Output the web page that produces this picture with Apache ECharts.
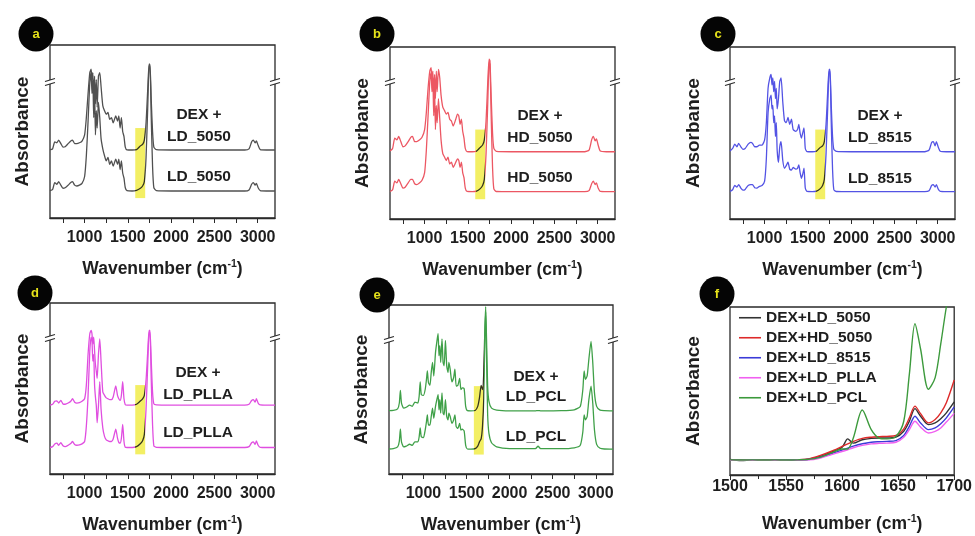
<!DOCTYPE html>
<html>
<head>
<meta charset="utf-8">
<script src="https://cdn.jsdelivr.net/npm/echarts@6/dist/echarts.min.js"></script>
<style>
  html, body { margin: 0; padding: 0; background: #fff; }
  #chart { width: 975px; height: 536px; }
</style>
</head>
<body>
<div id="chart"></div>
<script>
// wavenumber grid shared by the PLGA / PLLA spectra (panels a-d)
var wnPlga = [
  600, 630, 655, 680, 700, 725, 750, 775, 810, 840,
  860, 885, 910, 940, 970, 1000, 1020, 1040, 1060, 1075,
  1085, 1095, 1105, 1115, 1125, 1135, 1145, 1160, 1175, 1190,
  1210, 1230, 1250, 1270, 1290, 1310, 1330, 1360, 1380, 1395,
  1410, 1425, 1440, 1455, 1470, 1490, 1550, 1600, 1640, 1670,
  1690, 1710, 1730, 1745, 1755, 1770, 1785, 1800, 1830, 2000,
  2500, 2850, 2900, 2930, 2950, 2970, 2985, 3005, 3030, 3100,
  3200
]

// a: DEX + LD_5050 / LD_5050
var aUp = [
  39.5, 40, 44, 43.5, 45, 43, 41, 41.2, 43, 44.5,
  45, 43, 43, 43.5, 44.5, 48, 58, 72, 84, 86,
  80, 84, 70, 82, 66, 80, 64, 82, 84, 76,
  65, 62, 60, 61, 57, 58, 55, 59, 56, 59,
  52, 58, 50, 47, 41, 39.4, 39.3, 39.5, 41.5, 42.5,
  45, 55, 75, 89, 89, 68, 50, 41, 39.5, 39.3,
  39.3, 39.3, 40, 44, 45, 43.5, 44.5, 42, 39.5, 39.3,
  39.3
]
var aLo = [
  15.8, 16.5, 20.5, 19.5, 21, 19, 17.2, 17.5, 19, 20.5,
  21, 19, 18.5, 19, 20, 24, 36, 56, 78, 84,
  72, 80, 58, 74, 48, 62, 52, 67, 58, 46,
  40, 36, 33, 35, 31, 33, 30, 34, 31, 34,
  28, 33, 26, 23, 17.5, 15.8, 15.6, 16, 17, 18.5,
  21, 35, 65, 88, 88, 58, 30, 17.5, 15.8, 15.6,
  15.6, 15.6, 16.2, 19.5, 20.5, 19, 20, 17.5, 15.8, 15.6,
  15.6
]

// b: DEX + HD_5050 / HD_5050
var bUp = [
  39.5, 41, 47, 46, 48, 45, 42, 42.5, 45, 47.5,
  48, 45, 45, 46, 47.5, 52, 62, 76, 86, 88,
  80, 86, 72, 84, 70, 86, 74, 87, 82, 72,
  65, 63, 61, 62, 58, 57, 54, 58, 61, 60,
  55, 58, 51, 47, 41, 39.2, 39.1, 39.5, 41.5, 43,
  46, 57, 80, 93, 92, 70, 50, 41, 39.3, 39.1,
  39.1, 39.1, 40, 46, 48, 45.5, 46.5, 43, 39.5, 39.1,
  39.1
]
var bLo = [
  16, 17, 22, 21, 23, 20.5, 18, 18.5, 21, 23,
  23, 20.5, 20, 21, 22.5, 27, 40, 60, 80, 85,
  74, 82, 60, 76, 52, 66, 56, 70, 58, 46,
  38, 36, 34, 36, 32, 33, 30, 33, 35, 34,
  30, 33, 27, 24, 18, 16, 15.9, 16.2, 17.5, 19.5,
  23, 38, 68, 91, 90, 58, 30, 17.5, 16, 15.9,
  15.9, 15.9, 16.5, 20.5, 22, 20, 21, 18, 16, 15.9,
  15.9
]

// c: DEX + LD_8515 / LD_8515
var cUp = [
  39.5, 41, 43.5, 42, 44, 42, 40.5, 41, 43.5, 44.5,
  44, 42, 42, 43, 43, 46, 56, 76, 82, 84,
  78, 82, 74, 80, 70, 76, 64, 70, 80, 82,
  68, 57, 56, 59, 55, 58, 52, 51, 52, 55,
  50, 47, 50, 53, 41, 39.2, 39.1, 39.5, 41.5, 42.5,
  45, 55, 75, 87, 87, 66, 48, 40.5, 39.3, 39.1,
  39.1, 39.1, 40, 44.5, 45, 42.5, 45, 42, 39.4, 39.1,
  39.1
]
var cLo = [
  16, 17, 19.5, 18.5, 20, 18, 16.8, 17.2, 19.5, 20,
  20, 18.2, 18, 19, 19.5, 22, 35, 62, 70, 72,
  64, 66, 56, 60, 48, 56, 40, 33, 42, 45,
  34, 29.5, 31, 33, 29, 28.5, 30, 29, 29.5, 31.4,
  27, 23.7, 26, 29.5, 18, 16, 15.9, 16.2, 17.5, 19.5,
  23, 38, 66, 86, 86, 56, 29, 17, 16, 15.9,
  15.9, 15.9, 16.4, 19.5, 20, 18.5, 20, 17.5, 16, 15.9,
  15.9
]

// d: DEX + LD_PLLA / LD_PLLA
var dUp = [
  40.3, 40.8, 42.5, 42.8, 41.5, 43, 41, 40.8, 41.5, 42.5,
  44, 42, 41.5, 41.7, 42.5, 44, 52, 70, 82, 84,
  82, 76, 80, 72, 64, 60, 56, 70, 79, 66,
  48, 46, 44.5, 44, 43.5, 43.5, 45, 51.5, 46, 44,
  43, 46, 54, 44, 40.5, 40.3, 40.3, 40.8, 42.5, 44,
  46, 55, 72, 84, 84, 66, 48, 41, 40.4, 40.3,
  40.3, 40.3, 40.8, 43, 43.5, 42, 44, 41.5, 40.4, 40.3,
  40.3
]
var dLo = [
  15.5, 16, 17.5, 18, 16.8, 18.3, 16.5, 16, 16.8, 17.8,
  19, 17.2, 16.8, 17, 17.6, 19, 28, 46, 72, 80,
  78, 66, 70, 52, 45, 40, 30, 40, 54, 38,
  27, 22, 20, 19.4, 19, 19, 20.5, 26.2, 21, 18.5,
  18, 21, 29, 19, 15.6, 15.5, 15.5, 16, 17.5, 19.5,
  23, 38, 65, 83, 83, 55, 29, 16.5, 15.6, 15.5,
  15.5, 15.5, 16, 18.3, 18.8, 17.3, 19.3, 16.8, 15.6, 15.5,
  15.5
]

// e: DEX + LD_PCL / LD_PCL (own wavenumber grid)
var wnPcl = [
  600, 650, 700, 720, 732, 745, 770, 800, 840, 870,
  900, 935, 950, 962, 975, 1000, 1020, 1035, 1045, 1058,
  1075, 1090, 1105, 1120, 1140, 1160, 1170, 1180, 1190, 1200,
  1215, 1228, 1240, 1255, 1270, 1285, 1295, 1310, 1330, 1350,
  1365, 1380, 1400, 1420, 1435, 1450, 1472, 1490, 1510, 1550,
  1600, 1630, 1650, 1670, 1685, 1700, 1712, 1722, 1732, 1745,
  1760, 1790, 1850, 2000, 2300, 2330, 2360, 2600, 2750, 2820,
  2850, 2865, 2880, 2900, 2920, 2945, 2965, 2985, 3010, 3050,
  3100, 3200
]
var eUp = [
  37.5, 37.6, 38.5, 42, 49.5, 42, 39, 39.5, 40.8, 40,
  42.5, 42, 46, 54.5, 47, 46.5, 50, 56, 61, 54,
  52.5, 60, 66, 58, 72, 80, 83, 70, 76, 66,
  80, 66, 64, 79, 64, 60, 66, 62, 54.5, 57,
  62, 52, 52.5, 56.5, 50, 51, 50.5, 40, 37.5, 37.4,
  37.6, 40, 45, 52.5, 50, 60, 85, 99, 80, 52,
  43, 39, 37.8, 37.4, 37.4, 37.5, 37.4, 37.5, 38, 40,
  50, 61, 56, 58, 68, 78.5, 66, 48, 40, 37.8,
  37.5, 37.4
]
var eLo = [
  14.8, 15, 16, 19.5, 26.5, 19, 16, 16.5, 17.6, 17,
  19, 19, 22, 27.3, 22, 21.5, 26, 31, 35, 29,
  29, 34, 38.9, 33, 40, 45, 47, 38, 44, 36,
  48, 36, 35, 44, 34, 32, 36, 34, 30, 32,
  35, 28, 27, 30, 26, 26.5, 25.5, 17, 14.8, 14.7,
  15, 16.5, 19, 21, 28, 45, 80, 96, 70, 35,
  24, 18.5, 16, 15, 15, 16.5, 15, 15, 15.5, 17,
  25, 35, 32, 34, 44, 52, 42, 26, 17.5, 15.2,
  14.8, 14.7
]

// f: 1500-1700 cm-1 zoom
var wnZoom = [
  1500, 1510, 1520, 1530, 1540, 1550, 1560, 1570, 1580, 1590,
  1600, 1605, 1610, 1618, 1626, 1633, 1640, 1648, 1655, 1660,
  1665, 1670, 1677, 1683, 1688, 1693, 1700
]
var fLd5050 = [
  9.2, 8.6, 9.0, 8.7, 9.1, 8.8, 9.0, 9.4, 11, 13.5,
  16.5, 21.5, 19, 21, 21.8, 22, 22, 22.5, 26, 32,
  39.5, 35, 30, 31, 33.5, 37, 43.5
]
var fHd5050 = [
  8.9, 9.0, 8.8, 9.0, 8.9, 9.0, 9.1, 9.6, 11.5, 14,
  17, 18.5, 20, 21.8, 22.5, 22.8, 23, 23.5, 27.5, 34,
  41, 36.5, 31, 33, 37, 43, 56.5
]
var fLd8515 = [
  8.8, 8.8, 8.9, 8.8, 8.9, 8.9, 9.0, 9.2, 10.5, 12.5,
  14.8, 16, 17.2, 18.6, 19.5, 19.8, 20, 20.5, 23.5, 29,
  35, 31, 27, 28, 30.5, 34, 40.5
]
var fPlla = [
  8.7, 8.7, 8.8, 8.7, 8.8, 8.8, 8.9, 9.0, 10, 12,
  14, 15, 16.2, 17.6, 18.5, 18.8, 19, 19.5, 22.5, 27,
  32, 28.5, 25, 26, 28, 31.5, 36.7
]
var fPcl = [
  9.0, 8.9, 9.0, 8.9, 9.0, 8.9, 9.0, 9.3, 10.5, 13,
  15.5, 15.5, 22, 38.7, 27, 22, 21.5, 23, 32, 60,
  90, 75, 51, 58, 78, 100, 125
]

var wideLabels = [1000, 1500, 2000, 2500, 3000]
var wideTicks = [750, 1000, 1250, 1500, 1750, 2000, 2250, 2500, 2750, 3000]
var zoomNames = ['DEX+LD_5050', 'DEX+HD_5050', 'DEX+LD_8515', 'DEX+LD_PLLA', 'DEX+LD_PCL']

function pairs (xs, ys) {
  return xs.map(function (x, i) { return [x, ys[i]] })
}

var FONT = 'Liberation Sans, Arial, Helvetica, sans-serif'
var INK = '#1e1e1e'

// panel boxes in page pixels
var panels = [
  {id: 'a', grid: {left: 50, top: 45, width: 225, height: 173}, badge: [36, 34], brk: 82, yGap: 18,
    color: '#505050', wn: wnPlga, up: aUp, lo: aLo, tag: 'LD_5050', tx: 199, ty: [115, 137, 177]},
  {id: 'b', grid: {left: 390, top: 47, width: 225, height: 172}, badge: [377, 34], brk: 82, yGap: 18,
    color: '#ec5763', wn: wnPlga, up: bUp, lo: bLo, tag: 'HD_5050', tx: 540, ty: [116, 138, 178]},
  {id: 'c', grid: {left: 730, top: 47, width: 225, height: 172}, badge: [718, 34], brk: 82, yGap: 27,
    color: '#5353e4', wn: wnPlga, up: cUp, lo: cLo, tag: 'LD_8515', tx: 880, ty: [116, 138, 179]},
  {id: 'd', grid: {left: 50, top: 303, width: 225, height: 172}, badge: [35, 293], brk: 338, yGap: 18,
    color: '#e04ee0', wn: wnPlga, up: dUp, lo: dLo, tag: 'LD_PLLA', tx: 198, ty: [373, 395, 433]},
  {id: 'e', grid: {left: 389, top: 305, width: 224, height: 172}, badge: [377, 295], brk: 340, yGap: 18,
    color: '#3fa048', wn: wnPcl, up: eUp, lo: eLo, tag: 'LD_PCL', tx: 536, ty: [377, 397, 437]},
  {id: 'f', grid: {left: 730, top: 307, width: 225, height: 168}, badge: [717, 294], yGap: 27}
]

var zoomColors = ['#333333', '#dd2a2a', '#3b3bd8', '#f060f0', '#3c9a3c']
var zoomSeries = [fLd5050, fHd5050, fLd8515, fPlla, fPcl]

var grids = [], xAxes = [], yAxes = [], series = [], graphics = [], visualMaps = []

var xName = '{n|Wavenumber (cm}{s|-1}{n|)}'
var xNameStyle = {
  rich: {
    n: {fontSize: 17.5, fontWeight: 'bold', fontFamily: FONT, color: INK, lineHeight: 22},
    s: {fontSize: 10.5, fontWeight: 'bold', fontFamily: FONT, color: INK, lineHeight: 22, padding: [0, 0, 9, 0]}
  }
}

panels.forEach(function (p, i) {
  grids.push(Object.assign({show: true, borderColor: '#2a2a2a', borderWidth: 1.3, containLabel: false}, p.grid))
  var isZoom = p.id === 'f'
  var labelStyle = {
    fontSize: 16, fontWeight: 'bold', fontFamily: FONT, color: INK,
    margin: isZoom ? 4 : 12,
    formatter: function (v) { return String(v) }
  }
  if (!isZoom) labelStyle.customValues = wideLabels
  xAxes.push({
    type: 'value',
    gridIndex: i,
    min: isZoom ? 1500 : 600,
    max: isZoom ? 1700 : 3200,
    interval: isZoom ? 50 : 500,
    axisLine: {show: true, onZero: false, lineStyle: {color: '#2a2a2a', width: 1.3}},
    axisTick: isZoom
      ? {show: true, length: 5, lineStyle: {color: '#2a2a2a'}}
      : {show: true, length: 5, customValues: wideTicks, lineStyle: {color: '#2a2a2a'}},
    minorTick: isZoom ? {show: true, splitNumber: 2, length: 4, lineStyle: {color: '#2a2a2a'}} : {show: false},
    axisLabel: labelStyle,
    splitLine: {show: false},
    name: xName,
    nameLocation: 'middle',
    nameGap: isZoom ? 38 : 40,
    nameTextStyle: xNameStyle
  })
  yAxes.push({
    type: 'value',
    gridIndex: i,
    min: 0,
    max: 100,
    axisLine: {show: false},
    axisTick: {show: false},
    axisLabel: {show: false},
    splitLine: {show: false},
    name: 'Absorbance',
    nameLocation: 'middle',
    nameGap: p.yGap,
    nameTextStyle: {fontSize: 19, fontWeight: 'bold', fontFamily: FONT, color: INK}
  })

  if (isZoom) {
    zoomSeries.forEach(function (ys, k) {
      series.push({
        name: zoomNames[k], type: 'line', xAxisIndex: i, yAxisIndex: i,
        data: pairs(wnZoom, ys), symbol: 'none', smooth: 0.3,
        lineStyle: {color: zoomColors[k], width: 1.4}, itemStyle: {color: zoomColors[k]}, z: 3
      })
    })
  } else {
    var first = series.length
    series.push({
      type: 'line', xAxisIndex: i, yAxisIndex: i, data: pairs(p.wn, p.up), symbol: 'none', smooth: 0.2,
      lineStyle: {width: 1.3}, z: 3,
      markArea: {
        silent: true,
        itemStyle: {color: '#f3ef64'},
        data: [[{xAxis: 1585, yAxis: 11.5}, {xAxis: 1700, yAxis: 52}]]
      }
    })
    series.push({
      type: 'line', xAxisIndex: i, yAxisIndex: i, data: pairs(p.wn, p.lo), symbol: 'none', smooth: 0.2,
      lineStyle: {width: 1.3}, z: 3
    })
    // curve turns dark inside the highlighted 1600-1700 band
    visualMaps.push({
      type: 'piecewise', show: false, dimension: 0, seriesIndex: [first, first + 1],
      pieces: [{gte: 1588, lte: 1700, color: '#34341f'}],
      outOfRange: {color: p.color}
    })
    // sample labels
    var lbl = ['DEX +', p.tag, p.tag]
    lbl.forEach(function (t, k) {
      graphics.push({
        type: 'text', x: p.tx, y: p.ty[k], z: 20,
        style: {text: t, align: 'center', verticalAlign: 'middle', fill: INK, font: 'bold 15.5px ' + FONT}
      })
    })
    // axis break marks on both sides
    ;[p.grid.left, p.grid.left + p.grid.width].forEach(function (bx) {
      graphics.push({type: 'rect', z: 20, shape: {x: bx - 3, y: p.brk - 2, width: 6, height: 4}, style: {fill: '#fff'}})
      graphics.push({type: 'line', z: 21, shape: {x1: bx - 5, y1: p.brk - 0.5, x2: bx + 5, y2: p.brk - 3.5}, style: {stroke: '#2a2a2a', lineWidth: 1.1}})
      graphics.push({type: 'line', z: 21, shape: {x1: bx - 5, y1: p.brk + 3.5, x2: bx + 5, y2: p.brk + 0.5}, style: {stroke: '#2a2a2a', lineWidth: 1.1}})
    })
  }

  // panel badge
  graphics.push({type: 'circle', z: 30, shape: {cx: p.badge[0], cy: p.badge[1], r: 17.5}, style: {fill: '#050505'}})
  graphics.push({
    type: 'text', x: p.badge[0], y: p.badge[1] + 0.5, z: 31,
    style: {text: p.id, align: 'center', verticalAlign: 'middle', fill: '#e6e21a', font: 'bold 13px ' + FONT}
  })
})

var chart = echarts.init(document.getElementById('chart'), null, {renderer: 'canvas'})
chart.setOption({
  animation: false,
  backgroundColor: '#ffffff',
  grid: grids,
  xAxis: xAxes,
  yAxis: yAxes,
  visualMap: visualMaps,
  legend: {
    data: zoomNames,
    orient: 'vertical',
    left: 734,
    top: 304,
    icon: 'rect',
    itemWidth: 22,
    itemHeight: 1.6,
    itemGap: 2.5,
    selectedMode: false,
    textStyle: {fontSize: 15.5, fontWeight: 'bold', fontFamily: FONT, color: INK, lineHeight: 17.5}
  },
  series: series,
  graphic: graphics
})
</script>
</body>
</html>
